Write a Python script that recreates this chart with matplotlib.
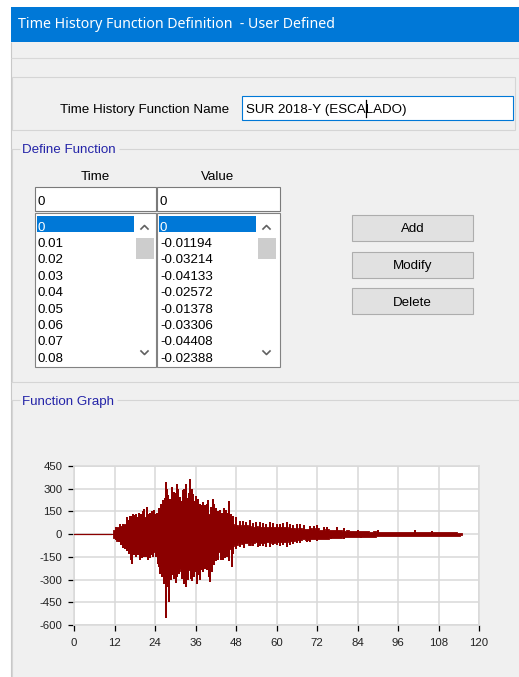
import matplotlib
matplotlib.use("Agg")
import matplotlib.pyplot as plt
from matplotlib.patches import Rectangle

# ---------------- data ----------------
dialog_title = "Time History Function Definition  - User Defined"
name_label = "Time History Function Name"
function_name = "SUR 2018-Y (ESCALADO)"
group_define = "Define Function"
group_graph = "Function Graph"
col_headers = ["Time", "Value"]
time_list = ["0", "0.01", "0.02", "0.03", "0.04", "0.05", "0.06", "0.07", "0.08"]
value_list = ["0", "-0.01194", "-0.03214", "-0.04133", "-0.02572",
              "-0.01378", "-0.03306", "-0.04408", "-0.02388"]
buttons = ["Add", "Modify", "Delete"]

x_ticks = [0, 12, 24, 36, 48, 60, 72, 84, 96, 108, 120]
y_ticks = [-600, -450, -300, -150, 0, 150, 300, 450]

# quiet pre-event record
quiet_t = [0, 11]
quiet_v = [0, 0]

# envelope of the dense part of the record (1 s steps, 11 s .. 115 s)
env_t = list(range(11, 116))
env_hi = [0, 30, 50, 55, 65, 75, 90, 100, 95, 110,
          115, 100, 105, 95, 110, 140, 160, 170, 180, 185,
          180, 190, 195, 180, 185, 170, 160, 150, 140, 130,
          130, 120, 105, 100, 95, 85, 70, 60, 55, 60,
          60, 55, 50, 55, 50, 45, 50, 45, 50, 45,
          50, 45, 50, 40, 40, 35, 40, 35, 35, 40,
          35, 40, 30, 30, 35, 30, 30, 28, 25, 22,
          25, 20, 22, 20, 18, 20, 18, 17, 18, 16,
          17, 15, 15, 14, 15, 16, 15, 14, 14, 13,
          15, 13, 14, 12, 13, 12, 12, 13, 12, 11,
          12, 11, 12, 10, 8]
env_lo = [0, -25, -45, -55, -75, -90, -100, -110, -105, -120,
          -115, -110, -120, -115, -140, -190, -210, -220, -230, -240,
          -230, -245, -240, -240, -220, -220, -210, -190, -180, -170,
          -150, -130, -115, -110, -105, -95, -80, -70, -60, -65,
          -60, -70, -60, -55, -60, -60, -55, -55, -60, -50,
          -55, -50, -55, -45, -45, -40, -40, -35, -40, -35,
          -30, -35, -30, -30, -30, -25, -28, -25, -25, -22,
          -22, -20, -20, -18, -18, -18, -16, -16, -16, -15,
          -15, -14, -15, -13, -14, -13, -13, -12, -12, -12,
          -12, -11, -12, -11, -11, -10, -11, -10, -10, -10,
          -10, -10, -10, -9, -8]

# individual peaks sticking out of the envelope (positive)
peak_up_t = [12.5, 13.5, 14.5, 15.6, 16.0, 16.5, 17.0, 17.6, 18.0, 18.5,
             19.0, 19.4, 19.9, 20.3, 20.8, 21.5, 21.9, 22.4, 22.8, 23.2,
             23.7, 24.0, 24.6, 25.3, 25.8, 26.5, 26.9, 27.2, 27.6, 27.9,
             28.4, 28.9, 29.2, 29.6, 30.0, 30.4, 30.8, 31.4, 31.8, 32.2,
             32.6, 33.1, 33.6, 34.1, 34.5, 35.0, 35.4, 35.8, 36.2, 36.7,
             37.4, 37.9, 38.3, 38.8, 39.3, 39.8, 40.5, 41.1, 41.6, 42.0,
             42.6, 43.2, 43.8, 44.3, 44.9, 45.5, 46.0, 46.6, 47.2, 48.0,
             49.2, 50.0, 51.0, 52.0, 53.0, 54.0, 55.1, 56.0, 57.0, 58.0,
             59.0, 60.0, 61.0, 62.0, 63.0, 64.0, 65.0, 66.0, 67.0, 68.0,
             70.0, 71.0, 72.0, 74.0, 75.0, 78.0, 80.0, 84.0, 90.0, 101.0,
             106.0]
peak_up_v = [45, 70, 65, 114, 95, 120, 120, 136, 125, 130,
             115, 140, 130, 150, 165, 180, 130, 140, 125, 150,
             160, 136, 140, 170, 200, 224, 240, 345, 300, 260,
             230, 312, 250, 280, 270, 334, 300, 246, 220, 290,
             300, 334, 240, 270, 361, 300, 268, 220, 250, 230,
             202, 190, 210, 190, 200, 224, 180, 235, 200, 170,
             150, 158, 140, 170, 160, 140, 220, 130, 120, 110,
             88, 90, 80, 95, 75, 80, 77, 75, 70, 80,
             75, 70, 65, 75, 79, 70, 60, 65, 70, 60,
             55, 55, 60, 50, 50, 45, 40, 30, 25, 28,
             22]

# individual peaks sticking out of the envelope (negative)
peak_dn_t = [12.4, 13.2, 13.8, 14.6, 15.2, 15.8, 16.4, 16.9, 17.1, 17.8,
             18.3, 18.9, 19.5, 20.2, 20.8, 21.4, 22.0, 22.6, 23.0, 23.5,
             24.3, 24.9, 25.2, 25.6, 26.1, 26.7, 27.3, 27.8, 28.0, 28.6,
             29.0, 29.5, 30.1, 30.6, 31.2, 31.9, 32.5, 33.2, 33.8, 34.6,
             35.0, 35.5, 35.9, 36.4, 36.9, 37.3, 37.8, 38.3, 38.8, 39.4,
             39.9, 40.3, 40.8, 41.6, 42.2, 42.8, 43.5, 44.1, 44.6, 45.2,
             45.8, 46.7, 47.2, 48.0, 49.2, 50.5, 52.0, 53.0, 54.5, 55.0,
             56.0, 57.0, 58.0, 59.0, 60.0, 61.0, 62.0, 63.0, 64.0, 65.0,
             66.0, 67.0, 69.0, 70.0, 72.0, 76.0, 80.0, 85.0]
peak_dn_v = [-40, -55, -70, -90, -100, -110, -130, -170, -194, -140,
             -150, -140, -172, -160, -150, -150, -172, -160, -140, -150,
             -150, -194, -220, -260, -280, -326, -557, -350, -447, -300,
             -270, -293, -320, -280, -260, -293, -330, -348, -300, -293,
             -310, -280, -250, -326, -270, -300, -238, -250, -230, -240,
             -280, -315, -250, -205, -180, -170, -170, -172, -160, -150,
             -180, -216, -130, -100, -88, -90, -80, -80, -88, -75,
             -80, -85, -88, -70, -70, -75, -70, -88, -70, -65,
             -60, -60, -55, -50, -45, -35, -30, -25]

# ---------------- figure ----------------
W, H, DPI = 519, 677, 100
fig = plt.figure(figsize=(W / DPI, H / DPI), dpi=DPI)
fig.patch.set_facecolor("white")
ui = fig.add_axes([0, 0, 1, 1])
ui.set_xlim(0, W)
ui.set_ylim(H, 0)
ui.axis("off")

UI_FONT = "Liberation Sans"
BG = "#F0F0F0"
BLUE = "#0078D7"
GROUP_TXT = "#2424A8"
FS = 9.6


def rect(x, y, w, h, fc, ec="none", lw=1.0, z=1):
    ui.add_patch(Rectangle((x, y), w, h, facecolor=fc, edgecolor=ec, linewidth=lw, zorder=z))


def hline(y, x0, x1, c="#D5D5D5", z=2):
    ui.plot([x0, x1], [y, y], color=c, lw=0.8, zorder=z, solid_capstyle="butt")


def vline(x, y0, y1, c="#D5D5D5", z=2):
    ui.plot([x, x], [y0, y1], color=c, lw=0.8, zorder=z, solid_capstyle="butt")


def txt(x, y, s, size=FS, color="#000000", ha="left", va="baseline", family=UI_FONT, z=5):
    ui.text(x, y, s, fontsize=size, color=color, ha=ha, va=va, family=family, zorder=z)


# dialog body and title bar
rect(11, 7, W - 11, H - 7, BG)
rect(11, 7, W - 11, 35, BLUE, z=2)
txt(18, 28.5, dialog_title, size=10.2, color="white", family="Noto Sans")
vline(11.4, 42, H, c="#C8C8C8")

# separator + name group
hline(58, 11, W, c="#D8D8D8")
rect(11.5, 77, 503.5, 53, "none", ec="#D5D5D5", lw=0.8, z=2)
txt(60, 113.3, name_label)
rect(241.5, 96, 271.5, 24, "white", ec=BLUE, lw=0.8, z=3)
txt(246, 113.3, function_name, z=6)
ui.plot([366, 366], [100, 117], color="black", lw=0.9, zorder=7)

# Define Function group
hline(149, 11, 20)
hline(149, 119, W)
vline(11.5, 149, 381.5)
hline(381.5, 11, W)
txt(22, 152.7, group_define, color=GROUP_TXT)

list_cols = [(34.5, 121, time_list), (156.5, 123, value_list)]
for (x0, w, items), header in zip(list_cols, col_headers):
    txt(x0 + w / 2, 180, header, ha="center")
    rect(x0, 187, w, 24, "white", ec="#7A7A7A", lw=0.8, z=3)
    txt(x0 + 3.5, 205, items[0], z=6)
    rect(x0, 213, w, 154, "white", ec="#828282", lw=0.8, z=3)
    rect(x0 + 2, 216, 97.5, 16.3, BLUE, z=4)
    sx = x0 + 101
    rect(sx, 238, 18, 20.5, "#CDCDCD", z=4)
    ui.plot([sx + 5.5, sx + 9, sx + 12.5], [229, 225.5, 229], color="#606060", lw=1.2, zorder=5)
    ui.plot([sx + 5.5, sx + 9, sx + 12.5], [351, 354.5, 351], color="#606060", lw=1.2, zorder=5)
    for i, s in enumerate(items):
        txt(x0 + 3.5, 230.6 + i * 16.4, s, color="white" if i == 0 else "black", z=6)

for i, b in enumerate(buttons):
    y0 = 215 + i * 36.7
    rect(352, y0, 121, 26, "#E1E1E1", ec="#ADADAD", lw=0.8, z=3)
    txt(412.5, y0 + 13, b, ha="center", va="center_baseline", z=6)

# Function Graph group
hline(400, 11, 20)
hline(400, 117, W)
vline(11.5, 400, H)
txt(22, 405.5, group_graph, color=GROUP_TXT)

# ---------------- chart ----------------
L, R, T, B = 74, 479, 466, 625
ax = fig.add_axes([L / W, 1 - B / H, (R - L) / W, (B - T) / H])
ax.set_facecolor("white")
ax.set_xlim(0, 120)
ax.set_ylim(-600, 450)
ax.set_xticks(x_ticks)
ax.set_yticks(y_ticks)
ax.set_xticklabels([str(v) for v in x_ticks])
ax.set_yticklabels([str(v) for v in y_ticks])
ax.grid(True, color="#D9D9D9", lw=1.1, zorder=0)
ax.set_axisbelow(True)
for s in ax.spines.values():
    s.set_color("#D9D9D9")
    s.set_linewidth(1.1)
ax.tick_params(axis="both", colors="black", labelcolor="#222222", labelsize=8.2,
               direction="out", length=4.5, width=0.9)
ax.tick_params(axis="x", pad=5)
ax.tick_params(axis="y", pad=4)
for lab in ax.get_xticklabels() + ax.get_yticklabels():
    lab.set_family(UI_FONT)

RED = "#8B0000"
ax.plot(quiet_t, quiet_v, color=RED, lw=0.9, zorder=3)
ax.fill_between(env_t, env_lo, env_hi, step="mid", color=RED, lw=0.6, edgecolor=RED, zorder=3)
ax.vlines(peak_up_t, 0, peak_up_v, color=RED, lw=1.3, zorder=3, antialiased=False)
ax.vlines(peak_dn_t, 0, peak_dn_v, color=RED, lw=1.3, zorder=3, antialiased=False)

fig.savefig("out.png", dpi=DPI, facecolor=fig.get_facecolor())
